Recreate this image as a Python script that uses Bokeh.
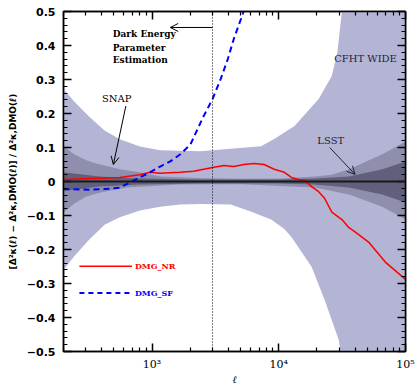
import numpy as np
from bokeh.plotting import figure
from bokeh.models import FixedTicker, LogAxis, LinearAxis, Range1d, Arrow, OpenHead, Span
from bokeh.core.properties import value
from bokeh.embed import file_html
from bokeh.resources import INLINE

# ---------------- data ----------------
ell_lim = [200, 1e5]
y_lim = [-0.5, 0.5]

y_ticks = [-0.5, -0.4, -0.3, -0.2, -0.1, 0.0, 0.1, 0.2, 0.3, 0.4, 0.5]
y_tick_labels = ["\u22120.5", "\u22120.4", "\u22120.3", "\u22120.2", "\u22120.1", "0",
                 "0.1", "0.2", "0.3", "0.4", "0.5"]
x_ticks = [1000, 10000, 100000]
x_tick_labels = ["10\u00b3", "10\u2074", "10\u2075"]

# CFHT WIDE (outer, lightest) band edges
cfht_up_ell = [200, 243, 321, 422, 556, 802, 1158, 2412, 4170, 7240, 9200, 13300, 20640, 26200, 29000, 31500, 33000, 100000]
cfht_up = [0.272, 0.235, 0.19, 0.15, 0.124, 0.103, 0.092, 0.089, 0.096, 0.104, 0.125, 0.163, 0.243, 0.31, 0.38, 0.5, 0.6, 3.0]
cfht_lo_ell = [200, 243, 321, 422, 556, 802, 1158, 1671, 2412, 4170, 6000, 8700, 11060, 12580, 18150, 23050, 29800, 32000, 100000]
cfht_lo = [-0.26, -0.22, -0.17, -0.127, -0.105, -0.085, -0.074, -0.068, -0.066, -0.068, -0.088, -0.112, -0.14, -0.163, -0.251, -0.349, -0.467, -0.55, -3.0]

# SNAP (middle) band edges
snap_up_ell = [200, 243, 300, 340, 556, 802, 1158, 2412, 5000, 10500, 19200, 26200, 35800, 65600, 100000]
snap_up = [0.104, 0.08, 0.063, 0.056, 0.036, 0.027, 0.015, 0.01, 0.008, 0.009, 0.015, 0.02, 0.036, 0.08, 0.118]
snap_lo_ell = [200, 243, 300, 385, 630, 1671, 5000, 19200, 35800, 65600, 100000]
snap_lo = [-0.092, -0.065, -0.045, -0.033, -0.018, -0.009, -0.008, -0.018, -0.038, -0.074, -0.112]

# LSST (inner, darkest) band edges
lsst_ell = [200, 385, 802, 2400, 10000, 19200, 35800, 65600, 100000]
lsst_up = [0.027, 0.015, 0.009, 0.006, 0.006, 0.009, 0.015, 0.036, 0.059]
lsst_lo = [-0.028, -0.015, -0.009, -0.006, -0.006, -0.009, -0.018, -0.038, -0.062]

# DMG_NR (red solid)
nr_ell = [200, 556, 802, 964, 1158, 1671, 2122, 3006, 3681, 4420, 5309, 6380, 7660, 9200, 11060,
          12580, 14300, 15960, 18150, 20640, 23050, 26200, 31500, 35800, 40000, 51700, 69300, 100000]
nr_val = [0.006, 0.012, 0.02, 0.027, 0.024, 0.027, 0.03, 0.041, 0.047, 0.044, 0.05, 0.053, 0.05, 0.036, 0.027,
          0.012, 0.006, 0.004, -0.015, -0.03, -0.05, -0.09, -0.112, -0.136, -0.148, -0.18, -0.237, -0.288]

# DMG_SF (blue dashed)
sf_ell = [200, 321, 463, 556, 668, 802, 964, 1158, 1391, 1671, 2008, 2549, 3006, 3483, 3960, 4420, 5213, 5500]
sf_val = [-0.022, -0.024, -0.021, -0.018, -0.003, 0.012, 0.027, 0.044, 0.059, 0.08, 0.109, 0.192, 0.243,
          0.302, 0.36, 0.42, 0.494, 0.53]

l_marker = 3000  # vertical dotted line

# annotation anchors (data coords)
de_lines = ["Dark Energy", "Parameter", "Estimation"]
de_x = 489
de_y = [0.434, 0.393, 0.358]
de_arrow = (3000, 0.453, 1391, 0.453)
snap_label = (526, 0.243)
snap_arrow = (621, 0.222, 495, 0.05)
cfht_label = (49800, 0.362)
lsst_label = (25700, 0.121)
lsst_arrow = (25200, 0.10, 40000, 0.021)
leg_x = [267, 693]
leg_text_x = 732
leg_y_nr = -0.249
leg_y_sf = -0.328

# ---------------- plot ----------------
p = figure(width=415, height=387, x_axis_type="log", output_backend="svg", toolbar_location=None,
           x_range=Range1d(*ell_lim), y_range=Range1d(*y_lim),
           min_border_left=63, min_border_right=10, min_border_top=11, min_border_bottom=35)
p.title.visible = False
p.xgrid.visible = False
p.ygrid.visible = False
p.outline_line_color = "black"
p.outline_line_width = 1.5
p.background_fill_color = "white"
p.border_fill_color = "white"

bottom = p.below[0]
left = p.left[0]

light = "#b4b4d4"
mid = "#8f8fad"
dark = "#60607c"

p.patch(cfht_up_ell + cfht_lo_ell[::-1], cfht_up + cfht_lo[::-1], fill_color=light, line_color=None)
p.patch(snap_up_ell + snap_lo_ell[::-1], snap_up + snap_lo[::-1], fill_color=mid, line_color=None)
p.patch(lsst_ell + lsst_ell[::-1], lsst_up + lsst_lo[::-1], fill_color=dark, line_color=None)

p.add_layout(Span(location=0, dimension="width", line_color="#1a1a1a", line_width=2))
p.add_layout(Span(location=l_marker, dimension="height", line_color="black", line_width=1, line_dash="1 2"))

p.line(nr_ell, nr_val, line_color="#ff0000", line_width=1.5)
p.line(sf_ell, sf_val, line_color="#0000ff", line_width=2, line_dash="6 4")

# legend samples
p.line(leg_x, [leg_y_nr, leg_y_nr], line_color="#ff0000", line_width=1.5)
p.line(leg_x, [leg_y_sf, leg_y_sf], line_color="#0000ff", line_width=2, line_dash="5 4")
p.text([leg_text_x], [leg_y_nr], text=["DMG_NR"], text_color="#ff0000", text_font=value("DejaVu Serif"),
       text_font_style="bold", text_font_size="8px", text_baseline="middle")
p.text([leg_text_x], [leg_y_sf], text=["DMG_SF"], text_color="#0000ff", text_font=value("DejaVu Serif"),
       text_font_style="bold", text_font_size="8px", text_baseline="middle")

# annotations
p.text([de_x] * 3, de_y, text=de_lines, text_color="black", text_font=value("DejaVu Serif"),
       text_font_style="bold", text_font_size="9px", text_baseline="middle")
p.text([snap_label[0]], [snap_label[1]], text=["SNAP"], text_font=value("DejaVu Serif"),
       text_font_size="10px", text_align="center", text_baseline="middle", text_color="black")
p.text([cfht_label[0]], [cfht_label[1]], text=["CFHT  WIDE"], text_font=value("DejaVu Serif"),
       text_font_size="10px", text_align="center", text_baseline="middle", text_color="#222233")
p.text([lsst_label[0]], [lsst_label[1]], text=["LSST"], text_font=value("DejaVu Serif"),
       text_font_size="10px", text_align="center", text_baseline="middle", text_color="#222233")

for (xs, ys, xe, ye), col in [(de_arrow, "black"), (snap_arrow, "black"), (lsst_arrow, "#222233")]:
    p.add_layout(Arrow(x_start=xs, y_start=ys, x_end=xe, y_end=ye, line_color=col, line_width=1,
                       end=OpenHead(size=8, line_color=col, line_width=1)))

# axes
minor_x = [m * d for d in (100, 1000, 10000) for m in range(2, 10) if 200 <= m * d <= 1e5]
minor_y = [round(v, 2) for v in np.arange(-0.5, 0.5001, 0.02)]

top = LogAxis(ticker=FixedTicker(ticks=x_ticks, minor_ticks=minor_x))
right = LinearAxis(ticker=FixedTicker(ticks=y_ticks, minor_ticks=minor_y))
p.add_layout(top, "above")
p.add_layout(right, "right")

bottom.ticker = FixedTicker(ticks=x_ticks, minor_ticks=minor_x)
left.ticker = FixedTicker(ticks=y_ticks, minor_ticks=minor_y)

for ax in [bottom, left, top, right]:
    ax.major_tick_in = 8
    ax.major_tick_out = 0
    ax.minor_tick_in = 4
    ax.minor_tick_out = 0
    ax.axis_line_width = 1.5
    ax.major_tick_line_width = 1.5
    ax.minor_tick_line_width = 1.2
    ax.axis_line_color = "black"
    ax.major_tick_line_color = "black"
    ax.minor_tick_line_color = "black"

top.major_label_overrides = {t: "" for t in x_ticks}
right.major_label_overrides = {t: "" for t in y_ticks}
top.major_label_standoff = 0
right.major_label_standoff = 0
top.major_label_text_font_size = "1px"
right.major_label_text_font_size = "1px"

left.major_label_overrides = dict(zip(y_ticks, y_tick_labels))
left.major_label_text_font = "DejaVu Sans"
left.major_label_text_font_style = "bold"
left.major_label_text_font_size = "11px"
left.major_label_text_color = "black"
left.major_label_standoff = 8
left.axis_label = "[\u0394\u00b2\u03ba(\u2113) \u2212 \u0394\u00b2\u03ba,DMO(\u2113)] / \u0394\u00b2\u03ba,DMO(\u2113)"
left.axis_label_text_font = "DejaVu Sans"
left.axis_label_text_font_style = "bold"
left.axis_label_text_font_size = "9px"
left.axis_label_text_color = "black"
left.axis_label_standoff = 6

bottom.major_label_overrides = dict(zip(x_ticks, x_tick_labels))
bottom.major_label_text_font = "DejaVu Serif"
bottom.major_label_text_font_size = "11px"
bottom.major_label_text_color = "black"
bottom.major_label_standoff = 6
bottom.axis_label = "\u2113"
bottom.axis_label_text_font = "DejaVu Serif"
bottom.axis_label_text_font_style = "italic"
bottom.axis_label_text_font_size = "10px"
bottom.axis_label_text_color = "black"
bottom.axis_label_standoff = 0

open("out.html", "w").write(file_html(p, INLINE))
